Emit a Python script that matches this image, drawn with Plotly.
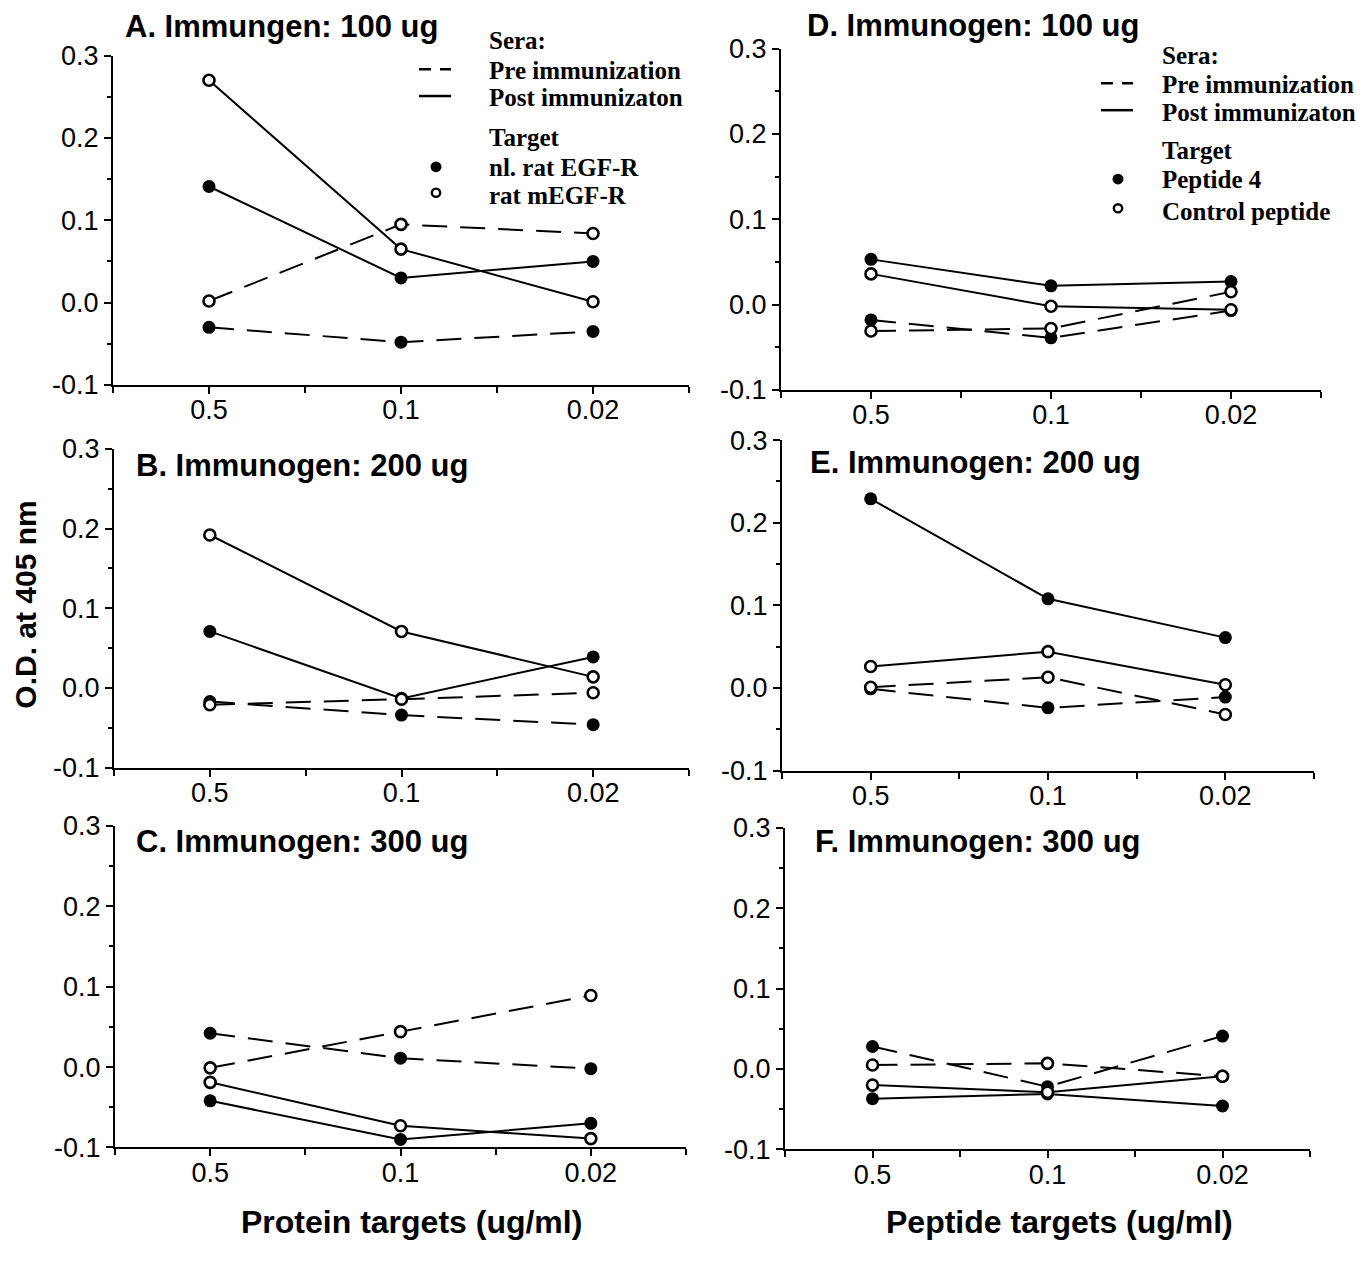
import plotly.graph_objects as go

W, H = 1372, 1264

# ---------------- data ----------------
x_labels = ["0.5", "0.1", "0.02"]
y_tickvals = [-0.1, 0.0, 0.1, 0.2, 0.3]
y_ticktext = ["-0.1", "0.0", "0.1", "0.2", "0.3"]

A_post_filled = [0.141, 0.030, 0.050]
A_post_open = [0.270, 0.065, 0.001]
A_pre_filled = [-0.030, -0.048, -0.035]
A_pre_open = [0.002, 0.095, 0.084]

B_post_filled = [0.071, -0.013, 0.039]
B_post_open = [0.192, 0.071, 0.014]
B_pre_filled = [-0.017, -0.034, -0.046]
B_pre_open = [-0.021, -0.014, -0.006]

C_post_filled = [-0.042, -0.090, -0.070]
C_post_open = [-0.019, -0.073, -0.089]
C_pre_filled = [0.042, 0.011, -0.002]
C_pre_open = [-0.001, 0.044, 0.089]

D_post_filled = [0.053, 0.022, 0.027]
D_post_open = [0.036, -0.002, -0.006]
D_pre_filled = [-0.018, -0.039, -0.007]
D_pre_open = [-0.031, -0.028, 0.015]

E_post_filled = [0.229, 0.108, 0.061]
E_post_open = [0.026, 0.044, 0.004]
E_pre_filled = [-0.001, -0.024, -0.011]
E_pre_open = [0.001, 0.013, -0.032]

F_post_filled = [-0.037, -0.031, -0.046]
F_post_open = [-0.020, -0.029, -0.009]
F_pre_filled = [0.028, -0.022, 0.041]
F_pre_open = [0.005, 0.007, -0.009]

panel_titles = ["A. Immungen: 100 ug", "B. Immunogen: 200 ug", "C. Immunogen: 300 ug",
                "D. Immunogen: 100 ug", "E. Immunogen: 200 ug", "F. Immunogen: 300 ug"]
x_titles = ["Protein targets (ug/ml)", "Peptide targets (ug/ml)"]
y_title = "O.D. at 405 nm"
sera_labels = ["Sera:", "Pre immunization", "Post immunizaton"]
target_labels_left = ["Target", "nl. rat EGF-R", "rat mEGF-R"]
target_labels_right = ["Target", "Peptide 4", "Control peptide"]

panel_series = [
    (A_post_filled, A_post_open, A_pre_filled, A_pre_open),
    (B_post_filled, B_post_open, B_pre_filled, B_pre_open),
    (C_post_filled, C_post_open, C_pre_filled, C_pre_open),
    (D_post_filled, D_post_open, D_pre_filled, D_pre_open),
    (E_post_filled, E_post_open, E_pre_filled, E_pre_open),
    (F_post_filled, F_post_open, F_pre_filled, F_pre_open),
]

# ---------------- layout geometry (pixels) ----------------
# (x_left, x_right, y_top(0.3), y_bottom(-0.1))
boxes = [
    (113, 689, 41.5, 379),
    (114, 689, 444.5, 771),
    (115, 686, 830.5, 1160),
    (781, 1321, 34.5, 384),
    (782, 1314, 435.5, 774),
    (785, 1310, 832.5, 1162),
]
title_pos = [(123, 12), (134, 461), (134, 847), (805, 11), (808, 458), (813, 847)]

SANS = "Liberation Sans, Arial, Helvetica, sans-serif"
SERIF = "Liberation Serif, Times New Roman, serif"


def px(x):
    return x / W


def py(y):
    return 1 - y / H


fig = go.Figure()
xs = [0, 1, 2]
DASH = "25px,13px"

for i, (series, box) in enumerate(zip(panel_series, boxes)):
    n = i + 1
    xa = "x" if n == 1 else f"x{n}"
    ya = "y" if n == 1 else f"y{n}"
    post_f, post_o, pre_f, pre_o = series
    # lines first
    for vals, dash in [(pre_f, DASH), (pre_o, DASH), (post_f, "solid"), (post_o, "solid")]:
        fig.add_trace(go.Scatter(x=xs, y=vals, mode="lines", xaxis=xa, yaxis=ya,
                                 line=dict(color="black", width=2, dash=dash),
                                 hoverinfo="skip", cliponaxis=False))
    # markers on top
    for vals in [pre_f, post_f]:
        fig.add_trace(go.Scatter(x=xs, y=vals, mode="markers", xaxis=xa, yaxis=ya,
                                 marker=dict(symbol="circle", size=13, color="black",
                                             line=dict(color="black", width=0)),
                                 cliponaxis=False))
    for vals in [pre_o, post_o]:
        fig.add_trace(go.Scatter(x=xs, y=vals, mode="markers", xaxis=xa, yaxis=ya,
                                 marker=dict(symbol="circle", size=11, color="white",
                                             line=dict(color="black", width=2.6)),
                                 cliponaxis=False))

    x0, x1, y0, y1 = box
    axis_common = dict(showline=True, linecolor="black", linewidth=2, showgrid=False,
                       zeroline=False, ticks="outside", ticklen=7, tickwidth=2,
                       tickcolor="black",
                       tickfont=dict(family=SANS, size=27, color="black"))
    xkey = "xaxis" if n == 1 else f"xaxis{n}"
    ykey = "yaxis" if n == 1 else f"yaxis{n}"
    fig.update_layout(**{
        xkey: dict(domain=[px(x0), px(x1)], range=[-0.5, 2.5], anchor=ya,
                   tickvals=xs, ticktext=x_labels, ticklabelstandoff=-7,
                   minor=dict(tickvals=[-0.5, 0.5, 1.5, 2.5], ticks="outside",
                              ticklen=6, tickwidth=1.5, tickcolor="black"),
                   **axis_common),
        ykey: dict(domain=[py(y1), py(y0)], range=[-0.1, 0.3], anchor=xa,
                   tickvals=y_tickvals, ticktext=y_ticktext,
                   minor=dict(tickvals=[-0.05, 0.05, 0.15, 0.25], ticks="outside",
                              ticklen=4, tickwidth=1.5, tickcolor="black"),
                   **axis_common),
    })

annotations = []
for t, (tx, ty) in zip(panel_titles, title_pos):
    annotations.append(dict(text=t, x=px(tx), y=py(ty), xref="paper", yref="paper",
                            xanchor="left", yanchor="middle", showarrow=False,
                            font=dict(family=SANS, size=31, color="black", weight="bold")))

annotations.append(dict(text=x_titles[0], x=px(412), y=py(1236), xref="paper", yref="paper",
                        xanchor="center", yanchor="middle", showarrow=False,
                        font=dict(family=SANS, size=32, color="black", weight="bold")))
annotations.append(dict(text=x_titles[1], x=px(1059), y=py(1236), xref="paper", yref="paper",
                        xanchor="center", yanchor="middle", showarrow=False,
                        font=dict(family=SANS, size=32, color="black", weight="bold")))
annotations.append(dict(text=y_title, x=px(26), y=py(604), xref="paper", yref="paper",
                        xanchor="center", yanchor="middle", showarrow=False, textangle=-90,
                        font=dict(family=SANS, size=30, color="black", weight="bold")))

shapes = []


def add_legend(tx, glyph_x0, glyph_x1, ys_text, target_labels):
    cx = (glyph_x0 + glyph_x1) / 2 + 1
    texts = sera_labels + target_labels
    for lab, yy in zip(texts, ys_text):
        annotations.append(dict(text=lab, x=px(tx), y=py(yy), xref="paper", yref="paper",
                                xanchor="left", yanchor="middle", showarrow=False,
                                font=dict(family=SERIF, size=25, color="black", weight="bold")))
    # dashed glyph
    shapes.append(dict(type="line", xref="paper", yref="paper",
                       x0=px(glyph_x0), x1=px(glyph_x1), y0=py(ys_text[1] - 1), y1=py(ys_text[1] - 1),
                       line=dict(color="black", width=2.5, dash="12px,9px")))
    shapes.append(dict(type="line", xref="paper", yref="paper",
                       x0=px(glyph_x0), x1=px(glyph_x1), y0=py(ys_text[2] - 2), y1=py(ys_text[2] - 2),
                       line=dict(color="black", width=2.5)))
    r = 5.5
    yf = ys_text[4] - 1
    shapes.append(dict(type="circle", xref="paper", yref="paper",
                       x0=px(cx - r), x1=px(cx + r), y0=py(yf - r), y1=py(yf + r),
                       fillcolor="black", line=dict(color="black", width=0)))
    r2 = 4.2
    yo = ys_text[5] - 3
    shapes.append(dict(type="circle", xref="paper", yref="paper",
                       x0=px(cx - r2), x1=px(cx + r2), y0=py(yo - r2), y1=py(yo + r2),
                       fillcolor="white", line=dict(color="black", width=2.4)))


add_legend(487, 419, 451, [26, 56.5, 85, 125, 156.5, 185], target_labels_left)
add_legend(1160, 1101, 1133, [41.5, 71, 99.5, 138.5, 169, 201], target_labels_right)

fig.update_layout(width=W, height=H, margin=dict(l=0, r=0, t=0, b=0),
                  plot_bgcolor="white", paper_bgcolor="white", showlegend=False,
                  annotations=annotations, shapes=shapes)

fig.write_html("out.html")
